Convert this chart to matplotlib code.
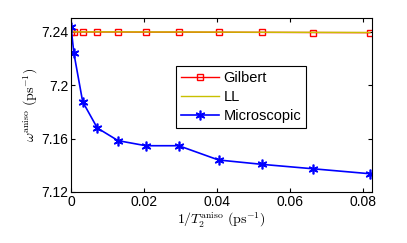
import matplotlib
matplotlib.use("Agg")
import matplotlib.pyplot as plt
from matplotlib.ticker import FuncFormatter

plt.rcParams["font.family"] = ["Liberation Sans", "DejaVu Sans"]
plt.rcParams["mathtext.fontset"] = "cm"

# data
rate = [0.0, 0.0008, 0.0032, 0.0072, 0.0129, 0.0205, 0.0295, 0.0404, 0.0524, 0.0663, 0.0818]
gilbert = [7.2400, 7.2400, 7.2400, 7.2400, 7.2400, 7.2399, 7.2399, 7.2398, 7.2397, 7.2396, 7.2395]
ll = [7.2401, 7.2401, 7.2401, 7.2401, 7.2401, 7.2400, 7.2400, 7.2399, 7.2398, 7.2397, 7.2396]
micro = [7.2440, 7.2240, 7.1877, 7.1680, 7.1585, 7.1547, 7.1547, 7.1440, 7.1407, 7.1374, 7.1337]

x_ticks = [0, 0.02, 0.04, 0.06, 0.08]
y_ticks = [7.12, 7.16, 7.2, 7.24]

fig = plt.figure(figsize=(4.07, 2.43), dpi=100)
ax = fig.add_axes([0.1744, 0.2099, 0.7396, 0.7161])

ax.plot(rate, gilbert, color="#ff0000", lw=1.0, marker="s", ms=5,
        mfc="none", mec="#ff0000", mew=1.0, label="Gilbert")
ax.plot(rate, ll, color="#c8c000", lw=1.0, label="LL")
ax.plot(rate, micro, color="#0000ff", lw=1.2, marker=(6, 2, 0), ms=7,
        mew=1.2, label="Microscopic")

ax.set_xlim(0, 0.0824)
ax.set_ylim(7.12, 7.2505)
ax.set_xticks(x_ticks)
ax.set_yticks(y_ticks)
ax.xaxis.set_major_formatter(FuncFormatter(lambda v, p: "%g" % v))
ax.yaxis.set_major_formatter(FuncFormatter(lambda v, p: "%g" % v))
ax.tick_params(direction="in", top=True, right=True, labelsize=10, length=3, pad=2)

ax.set_xlabel(r"$1/T_2^{\rm aniso}\ ({\rm ps}^{-1})$", fontsize=10, labelpad=1)
ax.set_ylabel(r"$\omega^{\rm aniso}\ ({\rm ps}^{-1})$", fontsize=10, labelpad=1)

leg = ax.legend(loc="upper left", bbox_to_anchor=(0.349, 0.724), borderaxespad=0,
                fontsize=10.5, fancybox=False, framealpha=1, edgecolor="black",
                handlelength=2.6, borderpad=0.35, labelspacing=0.35, handletextpad=0.3)
leg.get_frame().set_linewidth(0.8)

fig.savefig("out.png", dpi=100)
